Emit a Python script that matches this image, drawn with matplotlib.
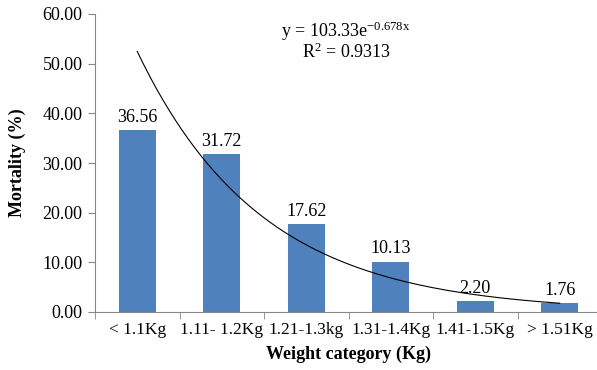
import numpy as np
import matplotlib.pyplot as plt

categories = ["< 1.1Kg", "1.11- 1.2Kg", "1.21-1.3kg", "1.31-1.4Kg", "1.41-1.5Kg", "> 1.51Kg"]
mortality = [36.56, 31.72, 17.62, 10.13, 2.20, 1.76]
# exponential trendline shown on the chart
trend_a = 103.33
trend_b = -0.678
r_squared = 0.9313

plt.rcParams['font.family'] = ['Liberation Serif', 'DejaVu Serif']
plt.rcParams['mathtext.default'] = 'regular'
plt.rcParams['axes.unicode_minus'] = False

fig = plt.figure(figsize=(5.97, 3.70), dpi=100)
W, H = 597, 370
left, right, top, bottom = 95, 602, 14, 312
ax = fig.add_axes([left / W, 1 - bottom / H, (right - left) / W, (bottom - top) / H])

x = np.arange(1, len(categories) + 1)
ax.bar(x, mortality, width=0.44, color="#4F81BD", zorder=2)
for xi, v in zip(x, mortality):
    ax.text(xi, v + 0.9, f"{v:.2f}", ha="center", va="bottom", fontsize=13)

xt = np.linspace(1, 6, 200)
ax.plot(xt, trend_a * np.exp(trend_b * xt), color="black", lw=0.8, zorder=3)

ax.text(3.47, 56.6, f"y = {trend_a:.2f}e$^{{{trend_b}x}}$", ha="center", va="center", fontsize=13)
ax.text(3.47, 52.2, f"R$^2$ = {r_squared}", ha="center", va="center", fontsize=13)

ax.set_xlim(0.5, 6.5)
ax.set_ylim(0, 60)
ax.set_yticks(np.arange(0, 61, 10))
ax.set_yticklabels([f"{t:.2f}" for t in np.arange(0, 61, 10)], fontsize=13)
ax.set_xticks(x)
ax.set_xticklabels(categories, fontsize=12.5)
ax.set_xticks(np.arange(0.5, 7, 1), minor=True)
ax.tick_params(axis="x", which="major", length=0, pad=7)
ax.tick_params(axis="x", which="minor", length=5, color="#868686")
ax.tick_params(axis="y", length=5, color="#868686", pad=4)

for s in ["top", "right"]:
    ax.spines[s].set_visible(False)
for s in ["left", "bottom"]:
    ax.spines[s].set_color("#868686")

ax.set_ylabel("Mortality (%)", fontsize=13, fontweight="bold", labelpad=12)
ax.set_xlabel("Weight category (Kg)", fontsize=13, fontweight="bold", labelpad=6)

fig.savefig("out.png", dpi=100)
